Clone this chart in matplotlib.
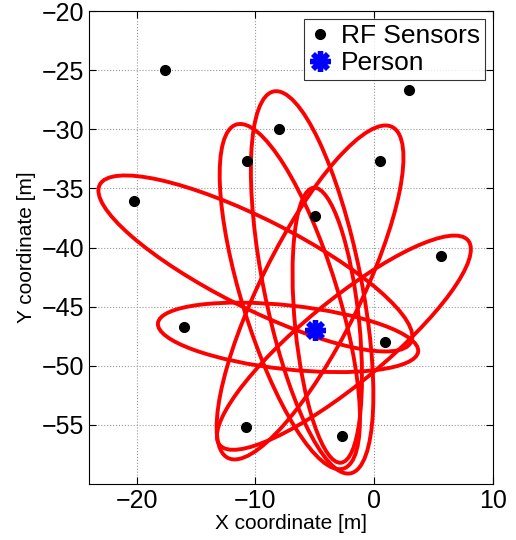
import numpy as np
import matplotlib
matplotlib.use('Agg')
import matplotlib.pyplot as plt
from matplotlib.patches import Ellipse

plt.rcParams['font.family'] = ['Liberation Sans', 'DejaVu Sans']

# RF sensor positions [m]
sensor_x = [-17.6, -20.2, -10.7, -8.0, 2.9, 0.45, -4.95, 5.65, -16.0, 0.95, -10.8, -2.75]
sensor_y = [-24.95, -36.1, -32.65, -29.95, -26.7, -32.65, -37.35, -40.75, -46.7, -48.0, -55.2, -55.9]

# estimated person location [m]
person_x = [-5.0]
person_y = [-47.0]

# ellipses: the two ends of the major axis and the semi-minor axis [m]
end1_x = [-18.2, -23.1, -8.45, -11.6, 7.9, 1.5, -5.1]
end1_y = [-46.4, -34.7, -26.8, -29.6, -39.4, -29.8, -34.95]
end2_x = [3.7, 3.1, -2.0, -2.6, -13.0, -12.3, -2.8]
end2_y = [-48.8, -48.0, -59.1, -58.7, -56.7, -57.8, -58.2]
semi_minor = [2.7, 3.75, 4.1, 4.0, 3.5, 4.2, 2.7]

fig = plt.figure(figsize=(5.16, 5.4), dpi=100)
ax = fig.add_axes([0.1725, 0.1037, 0.783, 0.8759])

for x1, y1, x2, y2, b in zip(end1_x, end1_y, end2_x, end2_y, semi_minor):
    cx, cy = (x1 + x2) / 2, (y1 + y2) / 2
    length = np.hypot(x2 - x1, y2 - y1)
    ang = np.degrees(np.arctan2(y2 - y1, x2 - x1))
    ax.add_patch(Ellipse((cx, cy), length, 2 * b, angle=ang,
                         fill=False, edgecolor='#ff0000', lw=2.8, zorder=3))

ax.plot(sensor_x, sensor_y, 'o', color='black', markersize=7, label='RF Sensors', zorder=4)
ax.plot(person_x, person_y, linestyle='none', marker=(8, 2, 0), color='blue',
        markersize=15, markeredgewidth=3.8, label='Person', zorder=5)

ax.set_xlim(-24, 10)
ax.set_ylim(-60, -20)
ax.set_xticks([-20, -10, 0, 10])
ax.set_yticks([-55, -50, -45, -40, -35, -30, -25, -20])
ax.tick_params(direction='in', top=True, right=True, labelsize=18, length=5, width=0.8)
ax.grid(True, linestyle=':', color='#999999', linewidth=0.8)
ax.set_axisbelow(True)

ax.set_xlabel('X coordinate [m]', fontsize=15, labelpad=1)
ax.set_ylabel('Y coordinate [m]', fontsize=15, labelpad=4)

leg = ax.legend(loc='upper right', fontsize=19, frameon=True, fancybox=False,
                edgecolor='black', handlelength=0.8, handletextpad=0.4,
                borderpad=0.2, labelspacing=0.1, borderaxespad=0.3)
leg.get_frame().set_linewidth(0.8)

fig.savefig('out.png', dpi=100)
